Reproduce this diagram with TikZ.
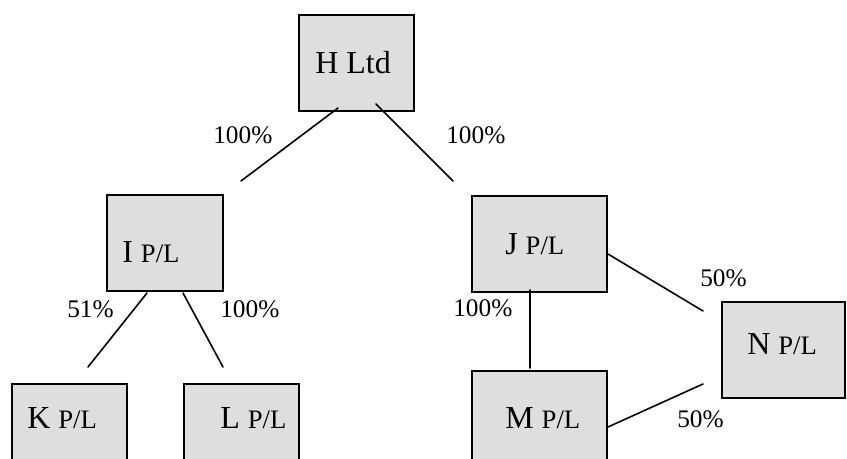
\documentclass[tikz,border=0pt]{standalone}
\usepackage{fontspec}
\setmainfont{Liberation Serif}
\begin{document}
\begin{tikzpicture}[x=0.75pt,y=-0.75pt,
  company/.style={draw=black,line width=1.5pt,fill=black!13,inner sep=0pt,
    minimum height=96*0.75pt},
  big/.style={anchor=base west,inner sep=0pt,font=\fontsize{24}{28}\selectfont},
  pct/.style={anchor=base west,inner sep=0pt,font=\fontsize{19}{22}\selectfont},
  link/.style={line width=1.2pt,line cap=round}]
\clip (0,0) rectangle (847,459);
% boxes
\node[company,minimum width=115*0.75pt] (H) at (356.5,63) {};
\node[company,minimum width=116*0.75pt] (I) at (165,243) {};
\node[company,minimum width=115*0.75pt] (K) at (69.5,432) {};
\node[company,minimum width=115*0.75pt] (L) at (241.5,432) {};
\node[company,minimum width=135*0.75pt] (J) at (539.5,244) {};
\node[company,minimum width=135*0.75pt] (M) at (539.5,419) {};
\node[company,minimum width=123*0.75pt] (N) at (783.5,350) {};
% box texts
\node[big] (tH) at (315,74) {H Ltd};
\node[big] (tI) at (122,263) {I \fontsize{20}{24}\selectfont P/L};
\node[big] (tK) at (27,429) {K \fontsize{20}{24}\selectfont P/L};
\node[big] (tL) at (220,429) {L \fontsize{20}{24}\selectfont P/L};
\node[big] (tJ) at (505,255) {J \fontsize{20}{24}\selectfont P/L};
\node[big] (tM) at (505,429) {M \fontsize{20}{24}\selectfont P/L};
\node[big] (tN) at (747,355) {N \fontsize{20}{24}\selectfont P/L};
% connector end points
\coordinate (hi1) at (338,108);
\coordinate (hi2) at (241,181);
\coordinate (hj1) at (376,104);
\coordinate (hj2) at (453,181);
\coordinate (ik1) at (147,293);
\coordinate (ik2) at (88,367);
\coordinate (il1) at (183,293);
\coordinate (il2) at (223,367);
\coordinate (jm1) at (530,290);
\coordinate (jm2) at (530,368);
\coordinate (jn1) at (608,254);
\coordinate (jn2) at (703,311);
\coordinate (mn1) at (608,427);
\coordinate (mn2) at (703,384);
% connectors
\draw[link] (hi1) -- (hi2);
\draw[link] (hj1) -- (hj2);
\draw[link] (ik1) -- (ik2);
\draw[link] (il1) -- (il2);
\draw[link] (jm1) -- (jm2);
\draw[link] (jn1) -- (jn2);
\draw[link] (mn1) -- (mn2);
% percentages
\node[pct] (p1) at (213,144) {100\%};
\node[pct] (p2) at (446,144) {100\%};
\node[pct] (p3) at (67,318) {51\%};
\node[pct] (p4) at (220,318) {100\%};
\node[pct] (p5) at (453,317) {100\%};
\node[pct] (p6) at (700,287) {50\%};
\node[pct] (p7) at (677,428) {50\%};
\end{tikzpicture}
\end{document}
